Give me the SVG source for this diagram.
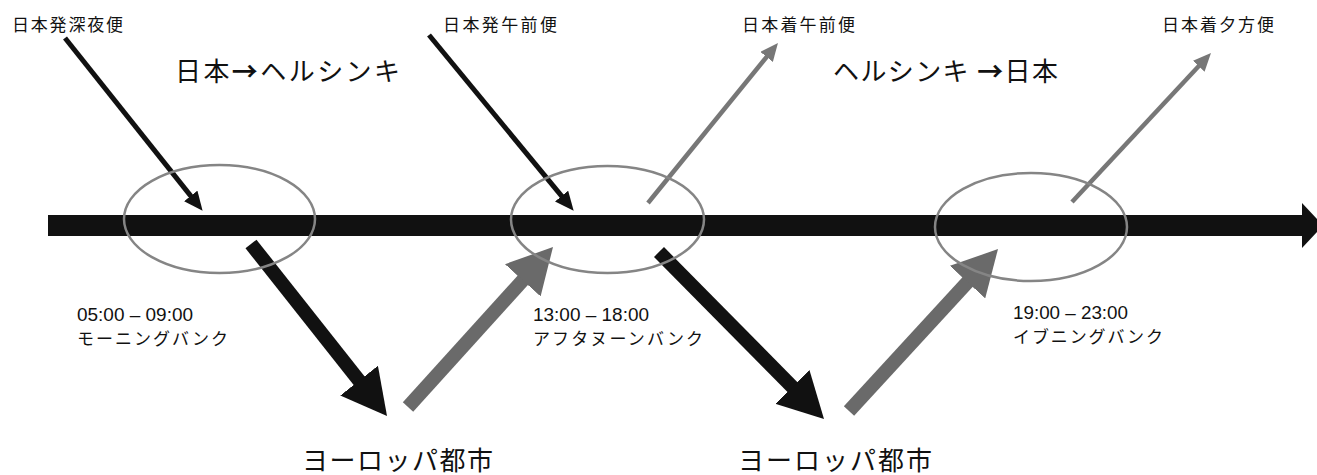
<svg xmlns="http://www.w3.org/2000/svg" width="1317" height="475" viewBox="0 0 1317 475">
<style>
.jp{font-family:"Noto Sans CJK JP","Noto Sans",sans-serif;fill:#111}
.lat{font-family:"Liberation Sans",Arial,"Noto Sans CJK JP",sans-serif;fill:#111}
.thinB{stroke:#111;stroke-width:5;fill:none}
.thinG{stroke:#777;stroke-width:4.5;fill:none}
.thickB{stroke:#111;stroke-width:14;fill:none}
.thickG{stroke:#6a6a6a;stroke-width:14;fill:none}
.bank{fill:none;stroke:#858585;stroke-width:2.5}
</style>
<defs>
<marker id="hThinB" markerUnits="userSpaceOnUse" viewBox="0 0 19 17" refX="6" refY="8.5" markerWidth="19" markerHeight="17" orient="auto"><path d="M0,0 L19,8.5 L0,17 Z" fill="#111"/></marker>
<marker id="hThinG" markerUnits="userSpaceOnUse" viewBox="0 0 18 16" refX="6" refY="8" markerWidth="18" markerHeight="16" orient="auto"><path d="M0,0 L18,8 L0,16 Z" fill="#777"/></marker>
<marker id="hThickB" markerUnits="userSpaceOnUse" viewBox="0 0 45 48" refX="10" refY="24" markerWidth="45" markerHeight="48" orient="auto"><path d="M0,0 L45,24 L0,48 Z" fill="#111"/></marker>
<marker id="hThickG" markerUnits="userSpaceOnUse" viewBox="0 0 45 48" refX="10" refY="24" markerWidth="45" markerHeight="48" orient="auto"><path d="M0,0 L45,24 L0,48 Z" fill="#6a6a6a"/></marker>
</defs>
<rect width="1317" height="475" fill="#fff"/>
<g id="timeline">
<path d="M48,215 H1302 V203 L1323,225.5 L1302,248 V236 H48 Z" fill="#111"/>
</g>
<g id="connectors">
<line class="thinB" x1="65" y1="38" x2="194.5" y2="200.6" marker-end="url(#hThinB)"/>
<line class="thinB" x1="429" y1="35" x2="565.4" y2="200.7" marker-end="url(#hThinB)"/>
<line class="thinG" x1="648" y1="203" x2="770.4" y2="52.3" marker-end="url(#hThinG)"/>
<line class="thinG" x1="1072" y1="202" x2="1202.8" y2="61.8" marker-end="url(#hThinG)"/>
<line class="thickB" x1="251" y1="244" x2="365.3" y2="388.5" marker-end="url(#hThickB)"/>
<line class="thickG" x1="408" y1="407" x2="529.5" y2="272.9" marker-end="url(#hThickG)"/>
<line class="thickB" x1="659" y1="252" x2="799.4" y2="394.1" marker-end="url(#hThickB)"/>
<line class="thickG" x1="849" y1="411" x2="974.3" y2="274.8" marker-end="url(#hThickG)"/>
</g>
<g id="bank-morning">
<ellipse class="bank" cx="219.5" cy="219" rx="95.5" ry="54"/>
<text class="lat" x="77" y="321" font-size="17.5" textLength="116" lengthAdjust="spacingAndGlyphs">05:00 – 09:00</text>
<text class="jp" x="77" y="345" font-size="17" textLength="151" lengthAdjust="spacing">モーニングバンク</text>
</g>
<g id="bank-afternoon">
<ellipse class="bank" cx="607.5" cy="219.5" rx="96.5" ry="53.5"/>
<text class="lat" x="533" y="321" font-size="17.5" textLength="116" lengthAdjust="spacingAndGlyphs">13:00 – 18:00</text>
<text class="jp" x="533" y="345" font-size="17" textLength="170" lengthAdjust="spacing">アフタヌーンバンク</text>
</g>
<g id="bank-evening">
<ellipse class="bank" cx="1031" cy="227" rx="96" ry="54"/>
<text class="lat" x="1013" y="318.5" font-size="17.5" textLength="115" lengthAdjust="spacingAndGlyphs">19:00 – 23:00</text>
<text class="jp" x="1013" y="343" font-size="17" textLength="150" lengthAdjust="spacing">イブニングバンク</text>
</g>
<g id="labels-flights">
<text class="jp" x="12" y="31" font-size="17" textLength="111" lengthAdjust="spacing">日本発深夜便</text>
<text class="jp" x="443" y="31" font-size="17" textLength="114" lengthAdjust="spacing">日本発午前便</text>
<text class="jp" x="742" y="31" font-size="17" textLength="113" lengthAdjust="spacing">日本着午前便</text>
<text class="jp" x="1162" y="31" font-size="17" textLength="112" lengthAdjust="spacing">日本着夕方便</text>
</g>
<g id="labels-direction">
<text class="jp" x="175" y="81" font-size="26" textLength="225" lengthAdjust="spacing">日本<tspan font-weight="bold">→</tspan>ヘルシンキ</text>
<text class="jp" x="833" y="81" font-size="26" textLength="225" lengthAdjust="spacing">ヘルシンキ <tspan font-weight="bold">→</tspan>日本</text>
</g>
<g id="labels-europe">
<text class="jp" x="302" y="470" font-size="26" textLength="191" lengthAdjust="spacing">ヨーロッパ都市</text>
<text class="jp" x="738" y="470" font-size="26" textLength="194" lengthAdjust="spacing">ヨーロッパ都市</text>
</g>
</svg>
